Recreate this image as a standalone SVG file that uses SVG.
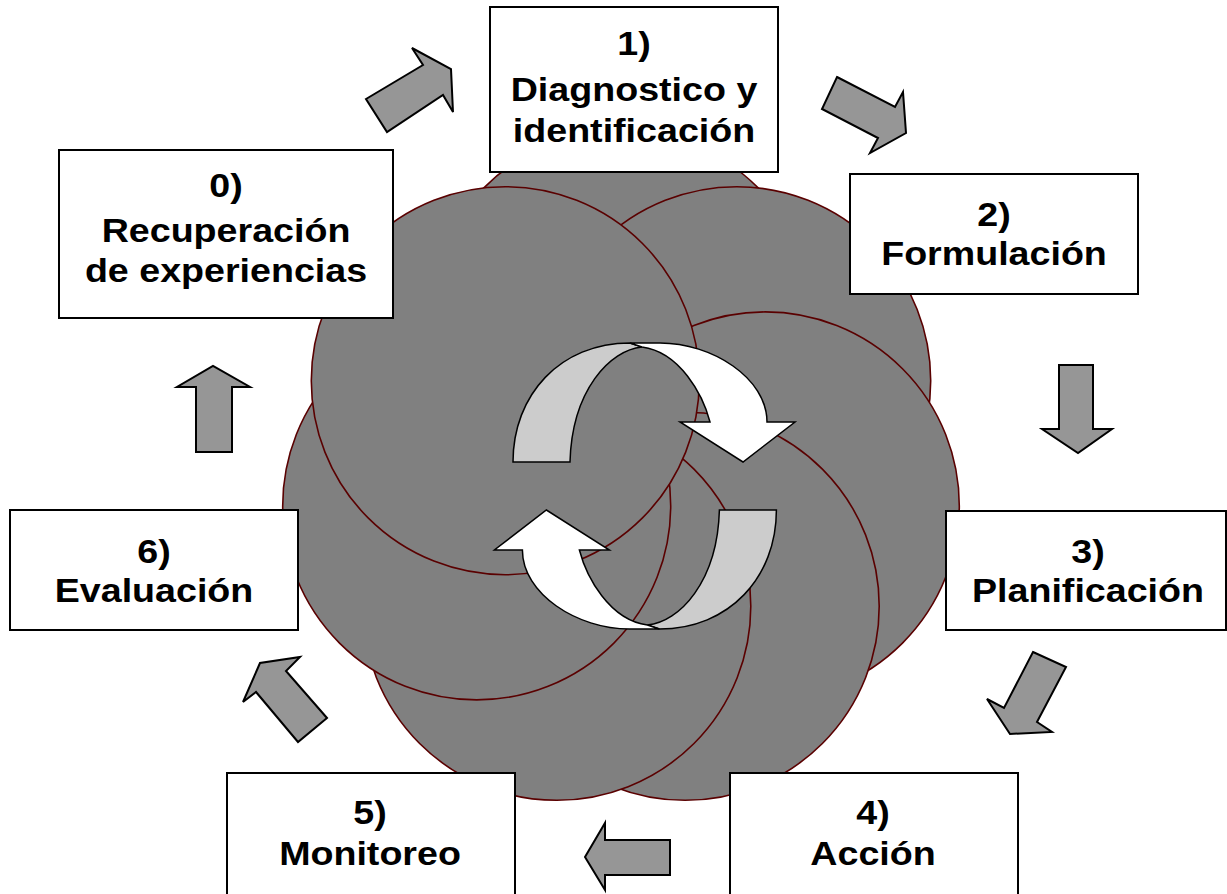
<svg xmlns="http://www.w3.org/2000/svg" width="1227" height="894" viewBox="0 0 1227 894">
<style>
.c{fill:#808080;stroke:#5a0000;stroke-width:1.6}
.box{fill:#fff;stroke:#000;stroke-width:2}
.ba{fill:#969696;stroke:#000;stroke-width:2;stroke-linejoin:miter}
.t{font-family:"Liberation Sans",Arial,sans-serif;font-weight:bold;font-size:33px;text-anchor:middle;fill:#000}
.lg{fill:#cccccc;stroke:#000;stroke-width:1.5}
.wh{fill:#ffffff;stroke:#000;stroke-width:1.5}
</style>
<g id="circles">
<circle class="c" cx="621" cy="325" r="194"/>
<circle class="c" cx="736.7" cy="380.7" r="194"/>
<circle class="c" cx="765.3" cy="505.9" r="194"/>
<circle class="c" cx="685.2" cy="606.3" r="194"/>
<circle class="c" cx="556.8" cy="606.3" r="194"/>
<circle class="c" cx="476.7" cy="505.9" r="194"/>
<circle class="c" cx="505.3" cy="380.7" r="194"/>
</g>
<g id="cycle-arrows">
<g id="top-arrow">
<path class="lg" d="M513,462 C513,395 560,343 630,343 L642,347 C610,350 572,390 570,462 Z"/>
<path class="wh" d="M630,343 L660,343 C712,343 767,378 767,422 L795,422 L743,462 L680,422 L710,422 C703,395 680,352 642,347 Z"/>
</g>
<g id="bottom-arrow" transform="rotate(180 644.7 486)">
<path class="lg" d="M513,462 C513,395 560,343 630,343 L642,347 C610,350 572,390 570,462 Z"/>
<path class="wh" d="M630,343 L660,343 C712,343 767,378 767,422 L795,422 L743,462 L680,422 L710,422 C703,395 680,352 642,347 Z"/>
</g>
</g>
<g id="connectors">
<polygon class="ba" points="366,99 423,65 412,48 451,69 453,112 443,95 387,132"/>
<polygon class="ba" points="837,77 895,107 903,92 906,133 870,153 878,138 822,109"/>
<polygon class="ba" points="1059,365 1093,365 1093,429 1112,429 1078,453 1042,429 1059,429"/>
<polygon class="ba" points="1033,652 1066,667 1037,722 1052,732 1010,734 987,699 1004,708"/>
<polygon class="ba" points="670,840 670,875 605,875 605,890 585,857 605,823 605,840"/>
<polygon class="ba" points="327,718 298,742 256,692 243,702 260,663 300,657 286,671"/>
<polygon class="ba" points="196,452 232,452 232,387 250,387 213,366 177,387 196,387"/>
</g>
<g id="node0">
<rect class="box" x="59" y="150" width="334" height="168"/>
<g transform="translate(226,0) scale(1.14,1)"><text class="t" x="0" y="197">0)</text><text class="t" x="0" y="242">Recuperación</text><text class="t" x="0" y="282">de experiencias</text></g>
</g>
<g id="node1">
<rect class="box" x="490" y="7" width="288" height="165"/>
<g transform="translate(634,0) scale(1.14,1)"><text class="t" x="0" y="55">1)</text><text class="t" x="0" y="101">Diagnostico y</text><text class="t" x="0" y="142">identificación</text></g>
</g>
<g id="node2">
<rect class="box" x="850" y="174" width="288" height="120"/>
<g transform="translate(994,0) scale(1.14,1)"><text class="t" x="0" y="226">2)</text><text class="t" x="0" y="265">Formulación</text></g>
</g>
<g id="node3">
<rect class="box" x="946" y="511" width="280" height="119"/>
<g transform="translate(1088,0) scale(1.14,1)"><text class="t" x="0" y="563">3)</text><text class="t" x="0" y="602">Planificación</text></g>
</g>
<g id="node4">
<rect class="box" x="730" y="773" width="288" height="125"/>
<g transform="translate(873,0) scale(1.14,1)"><text class="t" x="0" y="824">4)</text><text class="t" x="0" y="865">Acción</text></g>
</g>
<g id="node5">
<rect class="box" x="227" y="773" width="288" height="125"/>
<g transform="translate(370,0) scale(1.14,1)"><text class="t" x="0" y="824">5)</text><text class="t" x="0" y="865">Monitoreo</text></g>
</g>
<g id="node6">
<rect class="box" x="10" y="510" width="288" height="120"/>
<g transform="translate(154,0) scale(1.14,1)"><text class="t" x="0" y="563">6)</text><text class="t" x="0" y="602">Evaluación</text></g>
</g>
</svg>
